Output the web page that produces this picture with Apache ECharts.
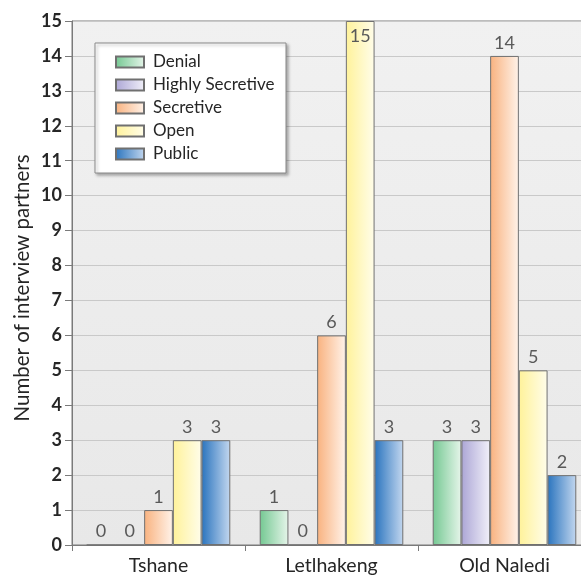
<!DOCTYPE html>
<html>
<head>
<meta charset="utf-8">
<script src="https://cdn.jsdelivr.net/npm/echarts@6/dist/echarts.min.js"></script>
<style>
  html, body { margin: 0; padding: 0; background: #ffffff; }
  #chart { width: 581px; height: 575px; }
</style>
</head>
<body>
<div id="chart"></div>
<script>
// Villages surveyed and disclosure categories
const villages = ['Tshane', 'Letlhakeng', 'Old Naledi'];
const groupNames = ['Denial', 'Highly Secretive', 'Secretive', 'Open', 'Public'];

// Number of interview partners per village, one array per category
const denial = [0, 1, 3];
const highlySecretive = [0, 0, 3];
const secretive = [1, 6, 14];
const open = [3, 15, 5];
const publicCount = [3, 3, 2];

const yTicks = [0, 15, 1]; // min, max, step

const seriesValues = [denial, highlySecretive, secretive, open, publicCount];

// left (saturated) -> right (pale) colour of each bar
const gradients = [
  ['#74c892', '#e6f5ea'],
  ['#aca6d6', '#f1f0f9'],
  ['#f9b27f', '#fff3ea'],
  ['#fff29a', '#fffdea'],
  ['#2a74be', '#c3d7ef']
];

function barFill(pair) {
  return new echarts.graphic.LinearGradient(0, 0, 1, 0, [
    { offset: 0, color: pair[0] },
    { offset: 1, color: pair[1] }
  ]);
}

const FONT = 'Lato';
const yMax = yTicks[1];

const series = seriesValues.map((vals, i) => ({
  name: groupNames[i],
  type: 'bar',
  barGap: '0%',
  barCategoryGap: '17%',
  data: vals.map(v => {
    const item = { value: v };
    if (v >= yMax) {
      item.label = { position: 'insideTop', distance: 6 };
    }
    return item;
  }),
  itemStyle: {
    color: barFill(gradients[i]),
    borderColor: '#707070',
    borderWidth: 1
  },
  label: {
    show: true,
    position: 'top',
    distance: 4,
    color: '#595959',
    fontFamily: FONT,
    fontSize: 18
  }
}));

const chart = echarts.init(document.getElementById('chart'), null, { renderer: 'canvas' });

chart.setOption({
  animation: false,
  backgroundColor: '#ffffff',
  grid: {
    left: 72,
    width: 519,
    top: 21,
    bottom: 30,
    containLabel: false,
    outerBoundsMode: 'none',
    show: true,
    borderColor: '#7a7a7a',
    borderWidth: 1,
    backgroundColor: new echarts.graphic.LinearGradient(0, 0, 0, 1, [
      { offset: 0, color: '#f1f1f1' },
      { offset: 1, color: '#e8e8e8' }
    ])
  },
  legend: {
    orient: 'vertical',
    left: 110,
    top: 48,
    z: 20,
    itemWidth: 28,
    itemHeight: 11,
    itemGap: 5,
    icon: 'rect',
    data: groupNames,
    textStyle: {
      fontFamily: FONT,
      fontSize: 17,
      lineHeight: 18,
      color: '#262626',
      padding: [0, 0, 0, 4]
    }
  },
  xAxis: {
    type: 'category',
    data: villages,
    axisLine: { lineStyle: { color: '#7a7a7a', width: 1 } },
    axisTick: { show: true, length: 6, lineStyle: { color: '#7a7a7a' } },
    axisLabel: {
      margin: 11,
      fontFamily: FONT,
      fontSize: 19.5,
      color: '#262626'
    }
  },
  yAxis: {
    type: 'value',
    min: yTicks[0],
    max: yTicks[1],
    interval: yTicks[2],
    axisLine: { show: true, lineStyle: { color: '#7a7a7a', width: 1 } },
    axisTick: { show: true, length: 7, lineStyle: { color: '#7a7a7a' } },
    splitLine: { lineStyle: { color: '#c9c9c9', width: 1 } },
    axisLabel: {
      margin: 10,
      fontFamily: FONT,
      fontSize: 18,
      fontWeight: 'bold',
      color: '#262626'
    }
  },
  graphic: [
    {
      type: 'rect',
      z: 10,
      shape: { x: 95, y: 43, width: 191, height: 130 },
      style: {
        fill: '#ffffff',
        stroke: '#8a8a8a',
        lineWidth: 1,
        shadowBlur: 3,
        shadowOffsetX: 2,
        shadowOffsetY: 2,
        shadowColor: 'rgba(0,0,0,0.3)'
      }
    },
    {
      type: 'text',
      x: 22,
      y: 288,
      rotation: Math.PI / 2,
      style: {
        text: 'Number of interview partners',
        fontFamily: FONT,
        fontSize: 20.5,
        fill: '#262626',
        align: 'center',
        verticalAlign: 'middle'
      }
    }
  ],
  series: series
});
</script>
</body>
</html>
